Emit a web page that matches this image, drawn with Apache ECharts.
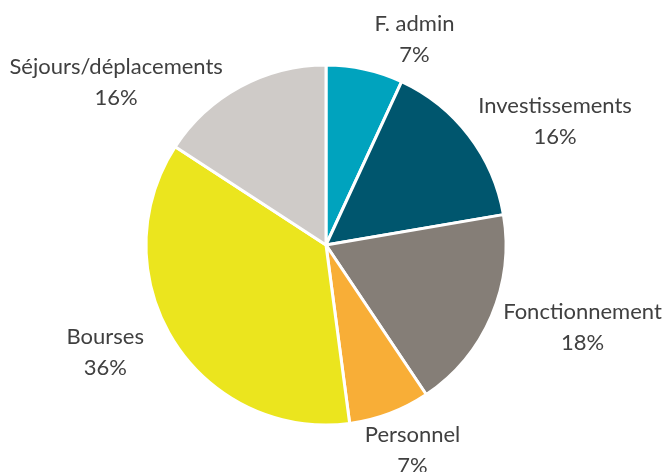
<!DOCTYPE html>
<html lang="fr" style="height: 100%">
<head>
  <meta charset="utf-8">
</head>
<body style="height: 100%; margin: 0; background: #fff">
  <div id="container" style="width: 664px; height: 472px"></div>

  <script type="text/javascript" src="https://cdn.jsdelivr.net/npm/echarts@6/dist/echarts.min.js"></script>

  <script type="text/javascript">
    // categories, clockwise from 12 o'clock
    var categories = ['F. admin', 'Investissements', 'Fonctionnement', 'Personnel', 'Bourses', 'Séjours/déplacements'];
    // shares (%)
    var shares = [6.9, 15.4, 18.3, 7.3, 36.3, 15.8];
    var colors = ['#00A3BE', '#00566E', '#857E77', '#F8AE37', '#EBE51E', '#CFCBC8'];
    // label placement (radial gap, horizontal gap) per slice, like Excel's best fit
    var labelLen = [31, 23, 28, 40, 21, 5];
    var labelLen2 = [-2, -14, -19, -44, 7, 10];

    var dom = document.getElementById('container');
    var myChart = echarts.init(dom, null, { renderer: 'canvas' });

    var data = categories.map(function (c, i) {
      return {
        name: c,
        value: shares[i],
        itemStyle: { color: colors[i] },
        labelLine: { length: labelLen[i], length2: labelLen2[i] }
      };
    });

    var option = {
      animation: false,
      series: [
        {
          type: 'pie',
          center: [326, 245],
          radius: [0, 180],
          startAngle: 90,
          clockwise: true,
          avoidLabelOverlap: false,
          percentPrecision: 0,
          data: data,
          itemStyle: { borderColor: '#fff', borderWidth: 3 },
          label: {
            show: true,
            position: 'outside',
            alignTo: 'none',
            formatter: '{a|{b}}\n{a|{d}%}',
            color: '#404040',
            rich: {
              a: {
                fontFamily: 'Lato',
                fontSize: 22,
                color: '#404040',
                align: 'center',
                lineHeight: 31
              }
            }
          },
          labelLine: { show: false }
        }
      ]
    };

    myChart.setOption(option);
    window.addEventListener('resize', myChart.resize);
  </script>
</body>
</html>
